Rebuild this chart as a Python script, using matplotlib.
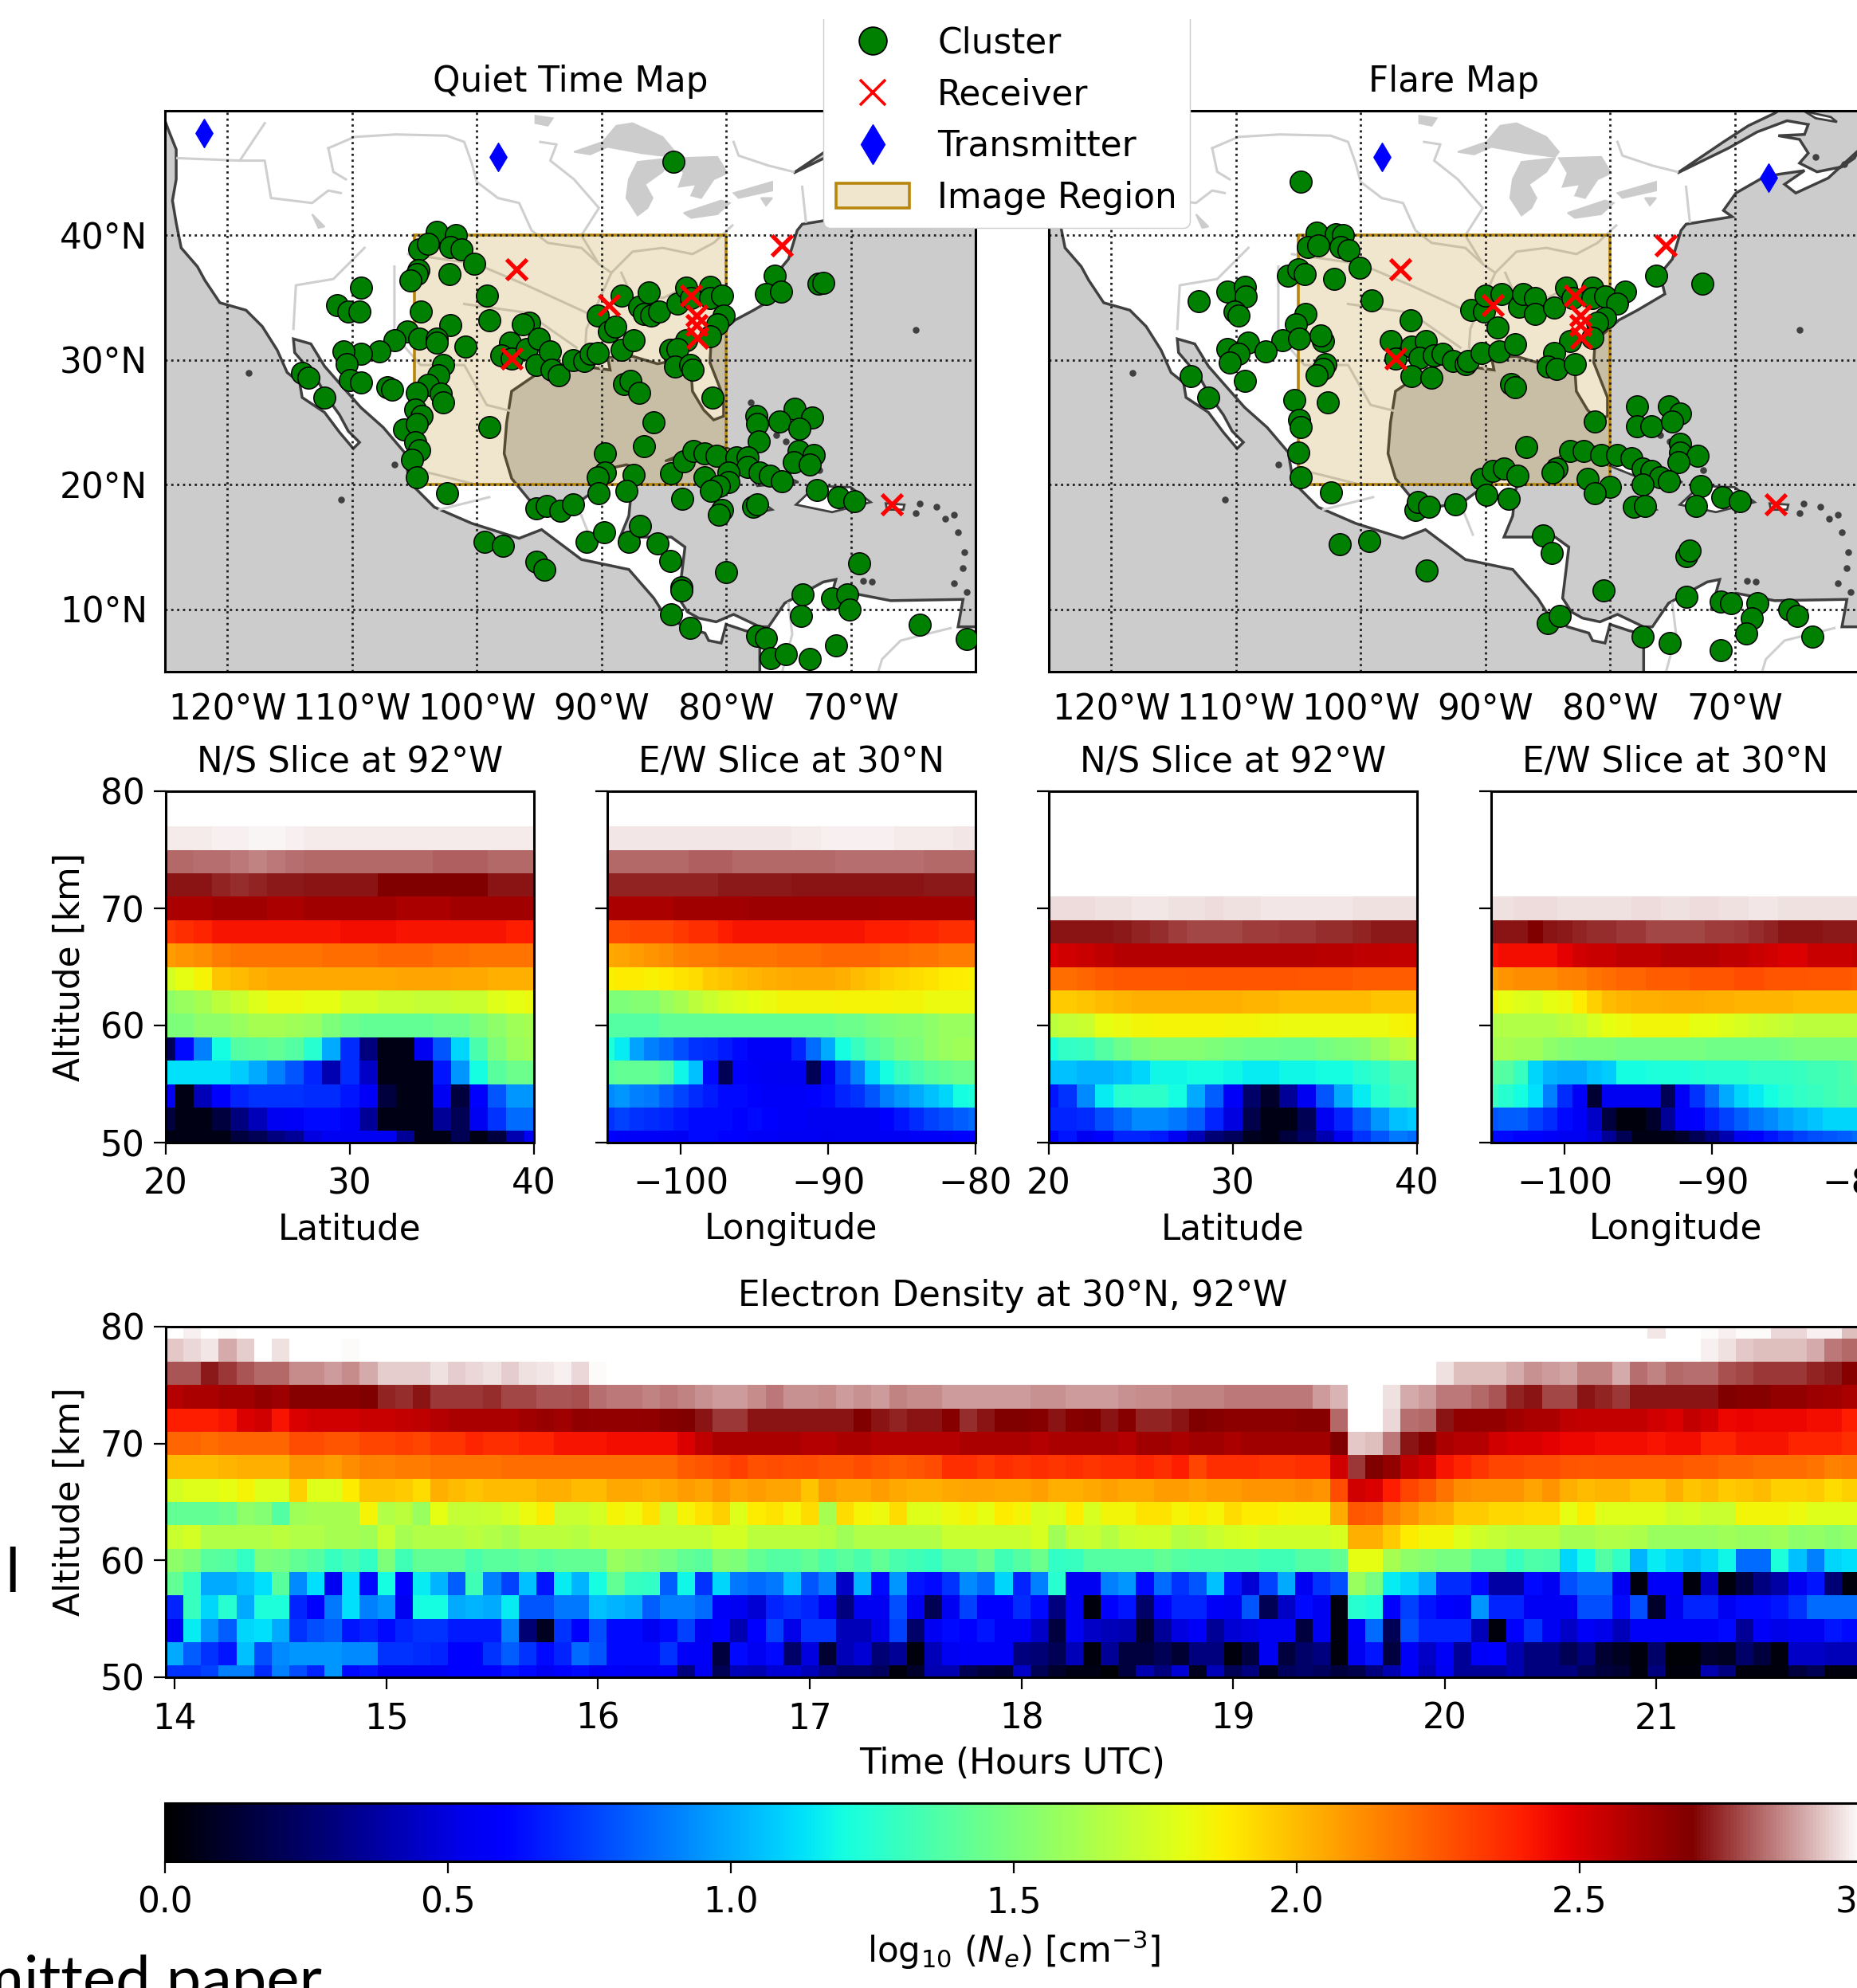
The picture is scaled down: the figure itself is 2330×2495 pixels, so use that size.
import matplotlib
matplotlib.use('Agg')
import matplotlib.pyplot as plt
import numpy as np
from matplotlib.colors import LinearSegmentedColormap
from matplotlib.lines import Line2D
from matplotlib.patches import Patch, Polygon, Rectangle

# Cluster, receiver and transmitter locations (lon, lat)
quiet_lon = [-84.2,-103.2,-101.7,-104.6,-103.9,-102.1,-101.2,-100.2,-102.2,-104.7,-104.8,-105.3,-109.3,-111.2,-110.3,-109.4,-104.5,-99.2,-99,-102.1,-95.8,-96.3,-105.6,-106.6,-104.6,-103.2,-103.2,-100.9,-107.8,-109.3,-110.7,-110.4,-110.2,-109.3,-107.2,-106.8,-114,-113.5,-112.2,-102.7,-103.1,-103.9,-104.8,-102.9,-102.7,-104.9,-104.4,-105.8,-104.8,-104.9,-104.6,-105.2,-104.8,-102.4,-99,
             -97.3,-98,-97.2,-96,-95,-95.2,-94.1,-94,-93.4,-92.3,-91.4,-90.9,-90.3,-88.4,-87.4,-90.3,-89.4,-88.9,-88.4,-87,-86.2,-86.6,-86,-85.4,-83.9,-83.2,-82.8,-81.3,-81.3,-80.3,-80.2,-80.7,-81.3,-83.2,-84.5,-83.9,-84.1,-82.9,-82.7,
             -81.1,-88.2,-87.7,-87,-85.8,-86.6,-76.1,-76.8,-75.6,-72.6,-72.2,
             -77.6,-77.5,-74.5,-73.1,-75.7,-74.1,-77.4,-74.2,-73,-74.6,-73.3,-89.7,-89.7,-90.3,-90.2,-87.4,-88,-84.4,-83.4,-82.6,-81.7,-80.8,-79.2,-78.3,-78.3,-79.8,-77.3,-76.5,-75.5,-81.7,-79.8,-80.6,-81.2,-83.5,-80.3,-80.6,-77.8,-77.5,-72.7,-71,-69.7,
             -95.2,-94.4,-93.3,-92.3,-99.4,-97.9,-95.2,-94.6,-91.2,-89.8,-87.8,-86.9,-85.5,-84.5,-83.6,-83.6,-84.4,-82.9,-80,-69.3,-73.9,-74,-71.5,-70.3,-70.1,-77.5,-76.8,-76.4,-75.2,-73.3,-71.2,-64.5,-60.7]
quiet_lat = [45.9,40.3,40,38.9,39.3,39.1,38.9,37.7,36.9,37.2,36.9,36.4,35.8,34.4,33.9,33.9,33.9,35.2,33.2,32.8,33,32.9,32.3,31.6,31.7,31.7,31.4,31.1,30.7,30.5,30.7,29.7,28.4,28.2,27.8,27.6,29,28.6,27,29.6,28.8,28,27.4,27.3,26.6,26,25.5,24.4,24.9,23.4,22.8,22,20.6,19.3,24.6,
             31.4,30.4,30.1,30.9,31.7,29.6,30.7,29.2,28.8,30,29.9,30.5,30.6,30.8,31.6,33.6,32.3,32.7,35.2,34.3,35.4,33.7,33.6,33.9,34.5,35.8,35,35.9,35,35.2,33.6,32.9,31.9,31.6,30.8,30.9,29.5,29.6,29.2,
             27,28.1,28.3,27.4,25,23.1,36.8,35.3,35.5,36.1,36.2,
             25.5,24.9,26.1,25.4,25.1,24.5,23.5,22.7,22.4,21.8,21.6,22.5,21,20.6,19.3,20.8,19.5,20.9,21.9,22.7,22.5,22.3,22.2,22.2,21.4,21,21,20.7,20.3,20.6,20.2,19.9,19.5,18.9,18,17.6,18.2,18.4,19.6,19,18.7,
             18.1,18.3,17.9,18.4,15.4,15.1,13.8,13.2,15.4,16.2,15.4,16.7,15.3,13.9,11.8,11.5,9.6,8.5,13,13.7,11.2,9.5,10.9,11.2,10,7.9,7.7,6.1,6.4,6,7.1,8.8,7.6]
flare_lon = [-104.8,-103.5,-102,-101.4,-104.2,-103.4,-101.6,-101,-100.1,-105.8,-105,-104.5,-102.1,-99.1,-96,-113,-110.7,-109.3,-109.2,-110.1,-109.8,-104.4,-105.2,-106.3,-104.9,-103,-103.2,-109,-110.7,-109.8,-110.5,-107.6,-109.3,-113.6,-112.2,-102.8,-103,-103.5,-102.6,-105.3,-104.9,-104.8,-105,-104.8,-102.4,
             -97.6,-97.2,-95.9,-94.8,-95.3,-95.9,-94.3,-94.1,-93.4,-92.6,-91.6,-91.4,-90.3,-88.9,-87.6,-91.1,-90.1,-90,-88.7,-87.3,-87,-86,-86,-84.5,-89,-83.5,-83,-81.4,-81.4,-80.4,-78.8,-79.4,-80.4,-81,-81.4,-83.2,-84.5,-85,-84.3,-82.8,-87.9,-87.6,-81.2,-86.7,-76.3,-72.6,
             -77.8,-77.8,-76.7,-75.3,-74.4,-75,-74.4,-74.4,-73,-74.5,-83.2,-82.1,-80.7,-79.4,-78.3,-77.4,-76.7,-76,-75.3,-84.3,-84.6,-81.8,-80,-81.2,-77.4,-78.1,-77.2,-72.7,-73.1,-71,-69.6,
             -90.3,-89.4,-88.5,-87.4,-89.9,-88.1,-95.6,-95.4,-94.5,-92.4,-101.7,-99.3,-94.7,-85.4,-84.7,-73.9,-73.6,-80.5,-73.9,-71.1,-70.3,-68.2,-68.6,-69.1,-65.6,-65,-63.8,-71.1,-75.2,-77.4,-85,-84]
flare_lat = [44.3,40.2,40.1,40,39.1,39.2,39.1,38.8,37.4,36.8,37.3,36.9,36.5,34.8,33.2,34.7,35.5,35.9,35.1,33.9,33.6,33.7,32.9,31.6,31.7,31.5,32,31.4,30.9,30.5,29.8,30.7,28.3,28.7,27,29.7,29.3,28.8,26.6,26.8,25.2,24.6,22.6,20.6,19.4,
             31.5,30.1,31.1,31.5,30.2,28.7,28.6,30.4,30.5,29.9,29.7,29.9,30.6,30.7,31.3,34,33.9,35.2,35.3,34.3,35.3,35,33.7,34.2,32.6,35.8,35,35.8,35,35.1,35.5,34.5,33.4,33,31.8,31.5,30.6,29.5,29.3,29.7,28.1,27.8,25.1,23,36.8,36.1,
             26.3,24.7,24.7,26.3,25.7,25.1,23.3,22.6,22.3,21.8,22.7,22.7,22.4,22.4,22.1,21.3,21.1,20.6,20.3,21.3,21,20.5,19.8,19.3,20,18.2,18.3,19.9,18.3,19,18.7,
             20.5,21.1,21.3,20.7,19.2,18.9,18,18.6,18.2,18.4,15.2,15.5,13.1,15.9,14.5,14.3,14.7,11.5,11,10.6,10.5,10.5,9.3,8.1,10,9.5,7.8,6.7,7.3,7.8,8.9,9.5]
receiver_lon = [-96.8,-89.4,-97.2,-82.8,-82.4,-82.4,-82.3,-75.5,-66.7]
receiver_lat = [37.3,34.4,30.1,35.2,33.6,32.8,31.8,39.2,18.4]
transmitter_lon = [-121.9,-98.3,-67.3]
transmitter_lat = [48.2,46.3,44.6]

# Outline of the mainland
coast_lon = [-125.3,-124.7,-124.1,-124.1,-124.4,-124.1,-123.7,-122.4,-121.8,-120.6,-118.5,-117.2,-116,-115.2,-114.2,-114,-112.2,-111,-109.9,-109.4,-110.3,-111,-112,-112.9,-114.6,-114.7,-113.3,-112.2,-110.8,-109.3,-107.5,-105.8,-105.4,-103.4,-100.4,-96.6,-94.8,-91.6,-87.8,-85.8,-85.1,-83.4,-81.7,-81.4,-80.4,-80,-78.5,-77.3,-77.3,-77.3,
             -59,-59,-61.4,-61,-66.8,-69.9,-71.5,-71.9,-71.2,-72.2,-75.3,-76.6,-77.3,-79.4,-80.8,-82.2,-83.1,-83.8,-83.3,-84.4,-86.5,-88.5,-87.8,-87.6,-86.9,-88,-90.3,-90.6,-91.8,-94,-95.8,-97.2,-97.8,-97.6,-97.2,-95,-93.5,-91.5,-89.3,-89.5,-87.5,-85.5,-84,-82.8,-82.7,-81.8,-81,-80.2,-80.2,-81.3,-81.2,-79.3,-77.8,-75.6,-76,-75,-74.3,-73.9,-70.2,-70.9,-69.9,-67.8,-66.5,-64.4,-66,-65.1,-62.5,-60.1,-60.4,-61.4,-63.4,-64.8,-64.1,-64.8,-66.5,-64.4,-64.1,-65.8,-68.2,-70.5,-74.6,-70.9,-68.9,-66.8,-66.5,-66.5,-127]
coast_lat = [50,48.4,46.9,44.5,42.8,41,39,37.5,36.4,34.6,34,32.7,30.8,29,28.2,27,25.8,24.2,22.9,23.4,24.3,25.6,27,28.6,30.6,31.7,31.3,29.5,27.9,26.2,24.6,22.6,20.2,18.2,16.9,15.7,16.4,14,13.2,10.9,9.8,8.6,8.1,7.5,7.3,8.8,8.3,8,5,4,
             4,8.6,8.6,10.8,10.7,11.3,10.5,9.9,12.4,12.2,10.5,8.6,8.6,9.6,9,9.3,9.8,10.9,15,15.8,15.8,15.8,17.5,19.5,21.3,21.6,21.1,19.5,18.6,18.2,18.8,20.5,22.5,25,27.5,29,29.7,29.5,29.2,30.2,30.3,29.7,30,29,27.5,26,25.2,25.5,27,29.8,31.5,33.2,34,35.3,36.9,38.1,40.4,40.9,41.5,42,43.4,44.6,44.9,45.2,44.1,43.4,44.6,46.8,46.2,45.5,45.1,45.8,46.6,47.7,48,48.1,48.9,49.2,48.3,47,45,47.5,48.8,49.8,50,52,52]

cuba_lon = [-84.9,-82,-80,-77,-74.2,-77.5,-78,-82]
cuba_lat = [21.9,23.1,23,21.5,20.2,19.9,20.7,22.3]
hispaniola_lon = [-74.4,-72.8,-70,-68.4,-71.5]
hispaniola_lat = [18.4,19.9,19.8,18.6,17.8]
jamaica_lon = [-78.3,-77,-76.3,-77.3]
jamaica_lat = [18.4,18.5,18,17.8]
puerto_rico_lon = [-67.2,-65.7,-65.8,-67.1]
puerto_rico_lat = [18.5,18.4,18,18]
anticosti_lon = [-64.4,-62.3,-61.8,-63.5]
anticosti_lat = [49.95,49.5,49.1,49.4]
dot_lon = [-118.3,-110.9,-106.6,-64.8,-63.1,-62.4,-61.7,-61.4,-60.9,-61,-61.7,-60.7,-69,-68.3,-64.5,-64.8,-77.5,-76,-75.2,-73.2,-78,-72.5,-74,-75,-63.5,-61.2]
dot_lat = [29,18.8,21.6,32.4,18.2,17.3,17.6,16.2,14.6,13.3,12.1,11.4,12.3,12.2,18.5,17.7,24.5,24,23.5,22.3,26.6,21.2,22.6,21,46.3,45.7]

superior_lon = [-92.2,-89.9,-88.8,-87.5,-85.1,-84.1,-84.4,-86.8,-89.5,-90.9]
superior_lat = [46.7,47.5,48.8,49,47.9,46.7,46.3,46.6,47.1,46.5]
michigan_lon = [-84.4,-87.1,-87.8,-88,-87.1,-86.3,-85.9,-86.5,-85.1]
michigan_lat = [46.2,45.9,44.5,43,41.6,42.2,43,44.1,45.1]
huron_lon = [-84.1,-80.7,-79.9,-81,-82,-82.8,-82.4,-83.8,-83.4]
huron_lat = [46.2,46.3,45,44.5,43,43.2,44.1,43.9,45]
erie_lon = [-83.4,-80.4,-79.7,-80.7,-82.8]
erie_lat = [41.8,42.8,42.6,41.7,41.4]
ontario_lon = [-79.4,-76.3,-76.3,-79]
ontario_lat = [43.4,44.3,43.6,43]
woods_lon = [-95.3,-93.9,-94.3,-95.3]
woods_lat = [49.6,49.4,48.8,49]
salt_lake_lon = [-113.2,-112.2,-112.7]
salt_lake_lat = [41.7,40.7,40.6]
finger_lon = [-77.2,-76.3,-76.8]
finger_lat = [43,43,42.4]

missouri_lon = [-111.9,-109.8,-106.5,-102.4,-101,-100.4,-100,-98.3,-96.6,-95.6,-94.3,-91.6,-90.2]
missouri_lat = [47,47.9,48.1,48,47.5,45.8,44.3,43,42.6,40.4,39.4,39,37.7]
yellowstone_lon = [-111.9,-111.5,-110.5]
yellowstone_lat = [47,45.1,44.5]
mississippi_lon = [-94.9,-93.6,-94.1,-92.2,-90.2,-91.6,-90.2,-89.2,-90.1,-91.2,-91.3,-90]
mississippi_lat = [47.5,47.3,46,44.5,42.2,40,37.7,37,35,32.5,31,29.3]
ohio_lon = [-89.2,-87.5,-85.1,-82.7,-81,-79.5]
ohio_lat = [37,38.7,39,38.5,39.4,40.8]
arkansas_lon = [-105.5,-100,-96,-91.2]
arkansas_lat = [38.5,37.7,36,33.8]
red_lon = [-101,-96,-92]
red_lat = [34.5,33.8,31]
rio_grande_lon = [-106.6,-106.6,-104.5,-101,-99.2,-97.2]
rio_grande_lat = [37.5,32,29.6,29.6,26.4,25.9]
colorado_lon = [-109,-111.5,-114.5,-114.7]
colorado_lat = [39,36.5,36,32.5]
columbia_lon = [-117,-119,-124]
columbia_lat = [49,46,46.2]
snake_lon = [-110.9,-111.9,-113.2,-116.5,-117,-119]
snake_lat = [43.4,43.6,42.6,43,46,46]
lerma_lon = [-100,-104,-105]
lerma_lat = [20,21,21.5]
balsas_lon = [-99,-103]
balsas_lat = [19,18]
usumacinta_lon = [-91,-92]
usumacinta_lat = [16,18.5]
magdalena_lon = [-75,-74.7,-75.5]
magdalena_lat = [10.5,8,5]
orinoco_lon = [-62,-66,-67.5,-67.8]
orinoco_lat = [8.5,7.5,6,5]
tennessee_lon = [-88.4,-87.5,-85,-83]
tennessee_lat = [37,35,35,36]
ottawa_lon = [-79.4,-79,-76.6,-74.6]
ottawa_lat = [47.5,46.4,45.6,45.1]
hudson_lon = [-73.9,-73.6]
hudson_lat = [43.9,41.1]

# Electron density slices, log10 values, one row per altitude from 50 km up
slice_alt = [50,52,54,56,58,60,62,64,66,68,70,72,74,76,78,80]
lat_centers = list(range(20, 41))
lon_centers = list(range(-105, -79))

quiet_ns = [
    [.05,.05,.05,.05,.15,.2,.3,.35,.5,.55,.55,.55,.55,.35,.05,.05,.2,.05,.15,.4,.55],
    [.15,.05,.05,.15,.3,.42,.55,.58,.62,.62,.57,.35,.05,.05,.05,.35,.2,.55,.72,.85,.85],
    [.55,.05,.42,.6,.68,.72,.72,.72,.7,.7,.65,.57,.15,.05,.05,.55,.15,.6,.8,.95,.95],
    [1.13,1.13,1.13,1.13,1.08,1.0,.9,.8,.68,.4,.7,.45,.05,.05,.05,.65,.95,1.2,1.4,1.45,1.45],
    [.2,.62,.9,1.2,1.38,1.4,1.42,1.38,1.25,1.0,.7,.3,.05,.05,.55,.8,1.1,1.35,1.5,1.58,1.6],
    [1.5,1.5,1.55,1.55,1.58,1.62,1.62,1.6,1.58,1.5,1.45,1.42,1.42,1.42,1.42,1.45,1.45,1.5,1.55,1.6,1.62],
    [1.55,1.58,1.62,1.68,1.72,1.78,1.82,1.82,1.8,1.8,1.75,1.75,1.72,1.72,1.7,1.7,1.72,1.72,1.78,1.8,1.82],
    [1.75,1.8,1.85,1.98,2.0,2.03,2.05,2.05,2.05,2.05,2.05,2.05,2.05,2.06,2.06,2.06,2.05,2.05,2.03,2.03,2.03],
    [2.08,2.1,2.12,2.16,2.18,2.18,2.18,2.18,2.18,2.2,2.2,2.2,2.22,2.22,2.22,2.2,2.2,2.18,2.18,2.18,2.18],
    [2.33,2.36,2.38,2.42,2.42,2.42,2.42,2.42,2.42,2.42,2.44,2.44,2.44,2.42,2.42,2.42,2.42,2.42,2.42,2.4,2.4],
    [2.6,2.6,2.6,2.62,2.62,2.62,2.6,2.6,2.62,2.62,2.62,2.62,2.62,2.6,2.6,2.6,2.62,2.62,2.62,2.62,2.62],
    [2.72,2.72,2.72,2.74,2.75,2.74,2.73,2.73,2.72,2.72,2.72,2.72,2.7,2.7,2.7,2.7,2.7,2.7,2.72,2.72,2.72],
    [2.82,2.82,2.83,2.83,2.84,2.85,2.84,2.83,2.82,2.82,2.82,2.82,2.82,2.82,2.82,2.81,2.81,2.81,2.82,2.82,2.82],
    [2.975,2.975,2.975,2.98,2.98,2.985,2.985,2.98,2.975,2.975,2.975,2.975,2.975,2.975,2.975,2.975,2.975,2.975,2.975,2.975,2.975],
    [3.05]*21,
    [3.05]*21,
]
quiet_ew = [
    [.6,.58,.58,.58,.58,.56,.62,.62,.6,.6,.58,.58,.56,.56,.56,.54,.55,.55,.55,.56,.56,.58,.58,.58,.6,.6],
    [.72,.75,.72,.7,.68,.65,.62,.62,.62,.6,.62,.6,.58,.58,.55,.55,.55,.55,.55,.6,.65,.7,.75,.78,.82,.85],
    [.92,.95,.9,.88,.82,.76,.7,.66,.62,.62,.6,.57,.57,.57,.6,.62,.68,.72,.8,.9,.95,1.0,1.05,1.1,1.2,1.22],
    [1.4,1.42,1.42,1.42,1.38,1.18,1.05,.62,.2,.6,.58,.56,.55,.55,.2,.55,.75,.9,1.1,1.2,1.3,1.35,1.4,1.42,1.45,1.45],
    [1.22,1.15,.98,.9,.85,.78,.72,.7,.66,.62,.58,.57,.57,.68,.85,1.0,1.2,1.3,1.38,1.42,1.48,1.5,1.55,1.58,1.6,1.6],
    [1.38,1.38,1.38,1.38,1.42,1.42,1.42,1.42,1.42,1.42,1.42,1.42,1.42,1.42,1.42,1.42,1.45,1.45,1.48,1.5,1.52,1.52,1.55,1.58,1.58,1.58],
    [1.5,1.5,1.52,1.52,1.58,1.62,1.68,1.72,1.76,1.78,1.8,1.82,1.84,1.84,1.84,1.84,1.85,1.85,1.85,1.85,1.84,1.84,1.82,1.82,1.82,1.82],
    [1.86,1.88,1.88,1.86,1.88,1.9,1.92,1.96,1.98,2.0,2.02,2.03,2.04,2.05,2.05,2.05,2.03,2.0,1.98,1.95,1.93,1.92,1.9,1.88,1.87,1.86],
    [2.05,2.06,2.08,2.1,2.12,2.15,2.16,2.16,2.18,2.18,2.18,2.18,2.2,2.2,2.2,2.22,2.22,2.22,2.22,2.2,2.2,2.18,2.18,2.16,2.16,2.16],
    [2.28,2.28,2.3,2.3,2.3,2.33,2.36,2.36,2.4,2.42,2.42,2.42,2.42,2.42,2.42,2.42,2.42,2.42,2.4,2.4,2.4,2.38,2.38,2.36,2.36,2.36],
    [2.6,2.6,2.6,2.6,2.6,2.62,2.62,2.62,2.62,2.62,2.63,2.63,2.63,2.63,2.63,2.63,2.63,2.63,2.63,2.62,2.62,2.62,2.62,2.62,2.62,2.62],
    [2.74,2.74,2.74,2.74,2.74,2.74,2.74,2.74,2.73,2.73,2.73,2.73,2.73,2.72,2.72,2.72,2.72,2.72,2.72,2.72,2.72,2.72,2.73,2.73,2.73,2.73],
    [2.82,2.82,2.82,2.82,2.82,2.82,2.81,2.81,2.81,2.82,2.82,2.82,2.82,2.82,2.82,2.82,2.83,2.83,2.83,2.83,2.83,2.83,2.82,2.82,2.82,2.82],
    [2.965,2.965,2.97,2.97,2.97,2.965,2.965,2.97,2.97,2.97,2.97,2.97,2.97,2.975,2.975,2.98,2.98,2.98,2.98,2.98,2.975,2.975,2.975,2.975,2.97,2.97],
    [3.05]*26,
    [3.05]*26,
]
flare_ns = [
    [.6,.65,.55,.6,.68,.68,.66,.55,.42,.28,.22,.08,.05,.15,.25,.4,.55,.72,.8,.88,.85],
    [.68,.68,.7,.78,.85,.92,.92,.88,.82,.68,.5,.18,.05,.05,.2,.55,.68,.82,.95,1.05,1.08],
    [.65,.72,.92,1.15,1.25,1.27,1.27,1.2,1.0,.82,.58,.25,.1,.35,.55,.8,1.0,1.15,1.25,1.32,1.35],
    [1.05,1.05,1.02,1.02,1.05,1.1,1.18,1.18,1.2,1.2,1.18,1.15,1.15,1.18,1.18,1.2,1.2,1.25,1.28,1.35,1.35],
    [1.22,1.28,1.3,1.38,1.45,1.5,1.52,1.52,1.52,1.5,1.48,1.46,1.46,1.45,1.45,1.48,1.5,1.52,1.58,1.65,1.68],
    [1.68,1.7,1.72,1.8,1.82,1.84,1.85,1.85,1.85,1.85,1.84,1.84,1.83,1.82,1.82,1.82,1.82,1.82,1.82,1.85,1.86],
    [1.96,1.96,1.98,2.0,2.02,2.03,2.03,2.03,2.03,2.03,2.03,2.02,2.02,2.0,2.0,2.0,2.0,2.0,1.98,1.98,1.98],
    [2.2,2.2,2.22,2.24,2.25,2.25,2.25,2.25,2.26,2.26,2.26,2.26,2.26,2.26,2.25,2.25,2.25,2.24,2.24,2.24,2.24],
    [2.5,2.52,2.54,2.56,2.58,2.58,2.58,2.58,2.58,2.58,2.58,2.58,2.58,2.58,2.58,2.57,2.57,2.56,2.56,2.55,2.55],
    [2.72,2.72,2.72,2.72,2.73,2.74,2.75,2.77,2.78,2.78,2.78,2.77,2.77,2.76,2.76,2.75,2.75,2.74,2.73,2.73,2.73],
    [2.955,2.955,2.955,2.96,2.96,2.965,2.965,2.96,2.96,2.955,2.96,2.96,2.965,2.965,2.97,2.97,2.97,2.96,2.96,2.96,2.96],
    [3.05]*21,
    [3.05]*21,
    [3.05]*21,
    [3.05]*21,
    [3.05]*21,
]
flare_ew = [
    [.62,.62,.6,.6,.58,.55,.55,.5,.35,.2,.05,.05,.05,.1,.2,.3,.4,.55,.6,.65,.7,.75,.78,.8,.82,.85],
    [.8,.82,.82,.75,.7,.62,.57,.45,.15,.03,.03,.1,.35,.57,.6,.68,.75,.82,.88,.92,.98,1.02,1.06,1.1,1.1,1.1],
    [1.3,1.25,1.2,1.12,.9,.7,.57,.12,.55,.55,.55,.55,.2,.57,.72,.85,1.0,1.1,1.15,1.2,1.25,1.28,1.3,1.32,1.35,1.35],
    [1.4,1.38,1.3,1.1,1.02,1.0,1.0,1.05,1.08,1.2,1.2,1.22,1.22,1.22,1.24,1.25,1.25,1.25,1.28,1.28,1.28,1.3,1.32,1.32,1.35,1.38],
    [1.62,1.62,1.6,1.6,1.55,1.52,1.5,1.5,1.5,1.48,1.48,1.48,1.48,1.48,1.48,1.46,1.46,1.46,1.46,1.46,1.48,1.5,1.5,1.5,1.5,1.5],
    [1.65,1.65,1.65,1.65,1.65,1.68,1.7,1.76,1.8,1.82,1.84,1.84,1.84,1.84,1.8,1.8,1.78,1.76,1.74,1.72,1.7,1.68,1.68,1.68,1.68,1.68],
    [1.84,1.8,1.78,1.76,1.8,1.82,1.88,1.95,2.0,2.02,2.03,2.03,2.04,2.04,2.04,2.03,2.03,2.02,2.02,2.02,2.02,2.0,2.0,2.0,2.0,2.0],
    [2.08,2.1,2.12,2.12,2.12,2.14,2.15,2.18,2.2,2.22,2.22,2.24,2.24,2.24,2.26,2.26,2.26,2.28,2.28,2.26,2.26,2.26,2.25,2.25,2.25,2.24],
    [2.42,2.44,2.44,2.44,2.44,2.48,2.52,2.54,2.54,2.56,2.56,2.56,2.58,2.58,2.58,2.58,2.56,2.56,2.54,2.52,2.5,2.5,2.54,2.54,2.54,2.56],
    [2.72,2.72,2.72,2.7,2.72,2.73,2.74,2.75,2.75,2.76,2.76,2.78,2.78,2.78,2.78,2.77,2.77,2.76,2.75,2.74,2.72,2.72,2.72,2.73,2.73,2.73],
    [2.96,2.96,2.955,2.955,2.955,2.96,2.96,2.96,2.96,2.96,2.955,2.955,2.96,2.96,2.955,2.955,2.96,2.96,2.965,2.965,2.96,2.96,2.96,2.96,2.96,2.96],
    [3.05]*26,
    [3.05]*26,
    [3.05]*26,
    [3.05]*26,
    [3.05]*26,
]

# Time-altitude series at 30N, 92W, 5 minute cadence from 14 UTC
ne_50 = [.72,.72,.75,.9,.9,.7,.9,.78,.68,.95,.62,.65,.55,.55,.55,.55,.6,.6,.6,.65,.62,.55,.6,.62,.55,.58,.55,.55,.58,.3,.55,.2,.42,.4,.48,.48,.42,.33,.25,.25,.22,.03,.1,.4,
         .4,.2,.15,.12,.45,.2,.1,.05,.05,.02,.15,.4,.3,.48,.08,.42,.2,.3,.08,.22,.25,.22,.15,.18,.3,.4,.57,.42,.55,.35,.35,.35,.4,.3,.3,.3,.2,.15,.12,.03,.3,.03,.03,.4,.3,.03,.03,.03,.15,.2,.03,.03]
ne_52 = [1.0,.82,.72,.65,1.05,.78,.92,.95,.95,.95,.92,.92,.72,.72,.7,.68,.6,.6,.72,.82,.72,.62,.68,.85,.8,.62,.62,.62,.72,.58,.58,.15,.62,.55,.62,.25,.5,.12,.42,.48,.28,.35,.03,.42,
         .55,.57,.57,.57,.3,.28,.2,.42,.03,.35,.15,.15,.2,.12,.3,.3,.03,.15,.55,.15,.25,.3,.03,.55,.65,.15,.57,.45,.57,.35,.57,.6,.4,.3,.3,.2,.3,.12,.08,.03,.25,.02,.02,.1,.08,.25,.15,.03,.45,.45,.42,.42]
ne_54 = [.55,1.15,.95,.82,1.1,1.12,1.0,.72,.78,.82,.65,.68,.62,.68,.72,.72,.66,.66,.66,.9,.28,.08,.72,.6,.78,.62,.62,.55,.62,.75,.55,.6,.4,.6,.75,.52,.72,.72,.42,.42,.52,.75,.25,.55,
         .62,.6,.65,.58,.58,.45,.15,.55,.45,.42,.4,.1,.35,.5,.58,.35,.48,.5,.55,.55,.15,.55,.03,.58,.85,.2,.78,.68,.68,.68,.42,.03,.6,.72,.55,.45,.58,.52,.42,.58,.57,.57,.57,.57,.62,.35,.57,.52,.55,.55,.65,.62]
ne_56 = [.68,1.3,1.1,1.25,1.0,1.22,1.22,.68,.6,.88,1.12,.9,.95,.55,1.2,1.2,1.0,1.02,1.0,1.15,.8,.8,.88,.88,1.05,1.02,1.0,.82,.9,.9,.85,.58,.55,.48,.68,.72,.68,.55,.3,.55,.55,.78,.55,.2,
         .55,.75,.6,.6,.7,.62,.3,.55,.03,.6,.65,.25,.6,.68,.68,.58,.55,.8,.2,.45,.62,.55,.03,1.25,1.22,.6,.75,.65,.6,.58,.95,.68,.68,.56,.56,.56,.78,.78,.62,.78,.1,.55,.68,.68,.55,.62,.62,.65,.72,.85,.85,.85]
ne_58 = [1.42,1.3,1.0,1.0,1.05,1.12,1.4,.92,1.12,.55,1.12,.62,1.2,.6,1.15,1.02,.82,1.32,.9,.75,1.05,.65,1.15,1.02,1.2,1.42,1.3,1.28,.82,1.18,.72,1.1,.88,.85,.88,1.05,.8,.9,.45,1.02,.62,.95,.65,.62,
         .72,.92,.85,1.1,.68,.9,1.25,.55,.55,.9,.95,.62,.85,.72,.8,1.05,.65,.48,.75,1.0,.55,.72,.78,1.58,1.48,1.15,1.1,1.0,.7,.7,.62,.38,.38,.62,.55,.78,.85,.85,.55,.03,.57,.57,.03,.45,.03,.15,.3,.38,.55,.65,.28,.03]
ne_60 = [1.55,1.5,1.4,1.38,1.28,1.5,1.48,1.42,1.38,1.3,1.35,1.28,1.5,1.32,1.42,1.42,1.42,1.35,1.4,1.4,1.42,1.4,1.42,1.42,1.42,1.58,1.55,1.52,1.48,1.42,1.4,1.52,1.5,1.42,1.38,1.38,1.42,1.35,1.4,1.35,1.42,1.35,1.32,1.3,
         1.38,1.38,1.45,1.32,1.38,1.45,1.28,1.3,1.38,1.38,1.38,1.38,1.42,1.38,1.36,1.36,1.35,1.35,1.32,1.32,1.38,1.38,1.42,1.8,1.8,1.62,1.55,1.52,1.48,1.48,1.4,1.4,1.3,1.36,1.35,1.1,1.2,1.38,1.28,1.02,1.15,1.1,1.05,1.1,1.18,.85,.85,1.22,1.05,.9,1.1,1.12]
ne_62 = [1.72,1.75,1.65,1.65,1.65,1.65,1.68,1.65,1.65,1.62,1.62,1.6,1.72,1.62,1.65,1.65,1.65,1.68,1.65,1.62,1.68,1.68,1.68,1.66,1.7,1.7,1.7,1.7,1.7,1.7,1.7,1.75,1.75,1.68,1.68,1.68,1.68,1.66,1.6,1.65,1.65,1.65,1.65,1.65,
         1.72,1.72,1.72,1.72,1.72,1.76,1.6,1.7,1.72,1.66,1.72,1.74,1.74,1.66,1.68,1.72,1.75,1.76,1.74,1.74,1.74,1.74,1.76,2.03,2.03,1.96,1.88,1.84,1.84,1.78,1.74,1.7,1.68,1.68,1.68,1.62,1.62,1.65,1.65,1.64,1.58,1.58,1.58,1.58,1.6,1.58,1.58,1.6,1.55,1.56,1.54,1.56]
ne_64 = [1.42,1.42,1.42,1.45,1.55,1.52,1.38,1.6,1.62,1.62,1.62,1.85,1.65,1.68,1.58,1.8,1.7,1.7,1.72,1.75,1.82,1.88,1.72,1.72,1.75,1.85,1.82,1.9,1.72,1.85,1.9,1.95,1.78,1.88,1.9,1.85,1.92,1.62,1.92,1.85,1.82,1.92,1.78,1.78,
         1.82,1.85,1.8,1.88,1.85,1.76,1.78,1.88,1.76,1.84,1.84,1.9,1.9,1.85,1.88,1.85,1.92,1.88,1.88,1.85,1.84,1.84,2.04,2.25,2.24,2.15,2.1,2.05,2.03,1.96,1.96,1.93,1.93,1.92,1.92,1.8,1.88,1.78,1.78,1.78,1.78,1.74,1.75,1.72,1.72,1.84,1.84,1.84,1.82,1.78,1.78,1.78]
ne_66 = [1.75,1.78,1.78,1.8,1.85,1.78,1.78,1.95,1.78,1.78,1.88,1.98,1.98,1.96,1.92,2.03,2.0,1.98,2.0,2.0,2.0,2.03,2.03,2.0,2.0,2.05,2.05,2.03,2.05,2.08,2.06,2.1,2.06,2.08,2.06,2.06,1.98,2.08,2.05,2.05,2.08,2.05,2.03,2.03,
         2.05,2.06,2.06,2.05,2.05,2.07,2.03,2.03,2.05,2.07,2.05,2.05,2.08,2.08,2.06,2.08,2.08,2.1,2.1,2.1,2.12,2.1,2.28,2.52,2.5,2.4,2.3,2.25,2.18,2.12,2.1,2.1,2.1,2.06,2.1,2.03,2.0,2.02,2.02,1.98,1.98,2.03,1.98,2.0,1.96,1.98,2.0,1.95,1.95,1.96,1.92,1.95]
ne_68 = [2.0,2.0,2.0,2.02,2.03,2.03,2.03,2.1,2.1,2.08,2.12,2.15,2.14,2.16,2.16,2.18,2.18,2.18,2.18,2.2,2.2,2.2,2.2,2.2,2.2,2.2,2.2,2.2,2.2,2.24,2.26,2.28,2.32,2.27,2.28,2.27,2.28,2.26,2.26,2.28,2.26,2.24,2.26,2.28,
         2.36,2.36,2.33,2.36,2.34,2.36,2.34,2.36,2.34,2.36,2.36,2.38,2.36,2.4,2.3,2.36,2.36,2.36,2.34,2.34,2.36,2.36,2.52,2.76,2.7,2.65,2.56,2.52,2.42,2.38,2.34,2.3,2.3,2.28,2.28,2.26,2.25,2.26,2.26,2.26,2.26,2.26,2.24,2.24,2.22,2.22,2.2,2.2,2.2,2.18,2.15,2.16]
ne_70 = [2.22,2.22,2.2,2.22,2.22,2.22,2.22,2.28,2.28,2.26,2.26,2.3,2.3,2.32,2.3,2.34,2.34,2.38,2.36,2.36,2.38,2.38,2.42,2.42,2.42,2.44,2.44,2.44,2.44,2.5,2.56,2.6,2.6,2.6,2.6,2.6,2.58,2.58,2.6,2.6,2.58,2.58,2.58,2.58,
         2.58,2.6,2.6,2.6,2.6,2.58,2.6,2.6,2.6,2.6,2.58,2.62,2.62,2.6,2.62,2.62,2.6,2.62,2.62,2.62,2.62,2.62,2.7,2.93,2.92,2.84,2.72,2.68,2.6,2.58,2.58,2.52,2.5,2.5,2.48,2.46,2.46,2.44,2.44,2.44,2.42,2.44,2.44,2.38,2.38,2.42,2.42,2.42,2.38,2.38,2.38,2.36]
ne_72 = [2.4,2.4,2.4,2.42,2.5,2.52,2.42,2.5,2.52,2.52,2.52,2.54,2.54,2.55,2.56,2.58,2.6,2.6,2.6,2.6,2.62,2.64,2.62,2.66,2.65,2.65,2.65,2.66,2.68,2.7,2.72,2.76,2.76,2.72,2.72,2.72,2.72,2.72,2.72,2.7,2.72,2.74,2.72,2.72,
         2.68,2.75,2.72,2.7,2.7,2.68,2.72,2.68,2.7,2.72,2.68,2.74,2.74,2.72,2.7,2.68,2.67,2.67,2.67,2.67,2.68,2.68,2.82,3.05,3.05,2.95,2.83,2.82,2.72,2.66,2.65,2.65,2.62,2.6,2.6,2.56,2.55,2.55,2.55,2.55,2.52,2.5,2.55,2.52,2.46,2.47,2.46,2.46,2.46,2.44,2.44,2.4]
ne_74 = [2.58,2.6,2.6,2.62,2.62,2.65,2.63,2.68,2.68,2.68,2.68,2.7,2.74,2.75,2.72,2.76,2.76,2.76,2.75,2.78,2.78,2.8,2.8,2.79,2.83,2.84,2.84,2.85,2.84,2.85,2.87,2.88,2.88,2.86,2.84,2.87,2.87,2.86,2.88,2.87,2.88,2.85,2.86,2.86,
         2.88,2.88,2.88,2.88,2.88,2.87,2.87,2.88,2.88,2.88,2.87,2.86,2.86,2.85,2.85,2.85,2.84,2.84,2.84,2.84,2.84,2.88,2.91,3.05,3.05,2.96,2.9,2.88,2.84,2.84,2.82,2.8,2.74,2.72,2.78,2.78,2.72,2.74,2.76,2.72,2.72,2.72,2.72,2.72,2.7,2.68,2.68,2.65,2.65,2.63,2.62,2.6]
ne_76 = [2.8,2.8,2.73,2.76,2.8,2.82,2.82,2.86,2.86,2.88,2.86,2.9,2.94,2.94,2.94,2.96,2.94,2.95,2.96,2.94,2.96,2.97,2.98,2.95,2.99] + [3.05]*19 + [3.05]*28 + [
         2.96,2.92,2.92,2.92,2.9,2.87,2.88,2.89,2.85,2.85,2.9,2.83,2.85,2.82,2.83,2.83,2.79,2.78,2.76,2.76,2.76,2.74,2.73,2.68]
ne_78 = [2.93,2.95,2.97,2.9,2.94,3.05,2.96,3.05,3.05,3.05,2.99] + [3.05]*33 + [3.05]*41 + [
         2.995,2.995,2.98,2.96,2.93,2.92,2.92,2.92,2.9,2.84,2.82]
ne_80 = [3.05,2.98,3.05,2.99] + [3.05]*40 + [3.05]*40 + [
         2.97,2.995,2.995,2.99,2.98,2.99,2.99,2.95,2.95,2.98,2.98,2.92]
hours = np.arange(96) / 12 + 14

FS = 31.5
plt.rcParams['font.family'] = 'DejaVu Sans'
plt.rcParams['font.size'] = FS
plt.rcParams['axes.linewidth'] = 2.2
plt.rcParams['xtick.major.size'] = 11
plt.rcParams['ytick.major.size'] = 11
plt.rcParams['xtick.major.width'] = 1.6
plt.rcParams['ytick.major.width'] = 1.6
plt.rcParams['xtick.major.pad'] = 11
plt.rcParams['ytick.major.pad'] = 8

W, H = 2330, 2495
fig = plt.figure(figsize=(W / 100, H / 100), dpi=100)


def add_axes(x0, y0, x1, y1):
    # pixel box of the reference, y measured from the top
    return fig.add_axes([x0 / W, 1 - y1 / H, (x1 - x0) / W, (y1 - y0) / H])


# black to jet to white colour scale
jet_steps = np.linspace(0, 1, 33)
stops = [(0.0, (0, 0, 0, 1))]
for j in jet_steps:
    stops.append((0.1 + 0.8 * j, plt.cm.jet(j)))
stops.append((1.0, (1, 1, 1, 1)))
cmap = LinearSegmentedColormap.from_list('ne_cmap', stops, N=512)


def draw_map(ax, lon, lat, title):
    ax.set_facecolor('#cccccc')
    ax.add_patch(Polygon(np.column_stack([coast_lon, coast_lat]), closed=True, fc='white', ec='#404040', lw=2.5, zorder=1))
    for ilon, ilat in [(cuba_lon, cuba_lat), (hispaniola_lon, hispaniola_lat), (jamaica_lon, jamaica_lat), (puerto_rico_lon, puerto_rico_lat), (anticosti_lon, anticosti_lat)]:
        ax.add_patch(Polygon(np.column_stack([ilon, ilat]), closed=True, fc='white', ec='#404040', lw=2.0, zorder=1))
    lakes = [(superior_lon, superior_lat), (michigan_lon, michigan_lat), (huron_lon, huron_lat), (erie_lon, erie_lat),
             (ontario_lon, ontario_lat), (woods_lon, woods_lat), (salt_lake_lon, salt_lake_lat), (finger_lon, finger_lat)]
    for ilon, ilat in lakes:
        ax.add_patch(Polygon(np.column_stack([ilon, ilat]), closed=True, fc='#cccccc', ec='#cccccc', lw=1.5, zorder=1.1))
    rivers = [(missouri_lon, missouri_lat), (yellowstone_lon, yellowstone_lat), (mississippi_lon, mississippi_lat), (ohio_lon, ohio_lat),
              (arkansas_lon, arkansas_lat), (red_lon, red_lat), (rio_grande_lon, rio_grande_lat), (colorado_lon, colorado_lat),
              (columbia_lon, columbia_lat), (snake_lon, snake_lat), (lerma_lon, lerma_lat), (balsas_lon, balsas_lat),
              (usumacinta_lon, usumacinta_lat), (magdalena_lon, magdalena_lat), (orinoco_lon, orinoco_lat),
              (tennessee_lon, tennessee_lat), (ottawa_lon, ottawa_lat), (hudson_lon, hudson_lat)]
    for rlon, rlat in rivers:
        ax.plot(rlon, rlat, color='#cfcfcf', lw=2.2, zorder=1.2)
    ax.scatter(dot_lon, dot_lat, s=26, color='#404040', zorder=1.3)
    ax.add_patch(Rectangle((-105, 20), 25, 20, fc='darkgoldenrod', alpha=0.2, ec='none', zorder=2))
    ax.add_patch(Rectangle((-105, 20), 25, 20, fc='none', ec='darkgoldenrod', lw=2.6, zorder=2.1))
    for lo in [-120, -110, -100, -90, -80, -70]:
        ax.axvline(lo, color='#202020', ls=':', lw=2.0, zorder=2.5)
    for la in [10, 20, 30, 40]:
        ax.axhline(la, color='#202020', ls=':', lw=2.0, zorder=2.5)
    ax.scatter(lon, lat, s=390, color='green', edgecolors='black', linewidths=1.1, zorder=3)
    ax.scatter(receiver_lon, receiver_lat, s=340, marker='x', color='red', linewidths=3.8, zorder=4)
    ax.scatter(transmitter_lon, transmitter_lat, s=330, marker='d', color='blue', zorder=4)
    ax.set_xlim(-125, -60)
    ax.set_ylim(5, 50)
    ax.set_xticks([-120, -110, -100, -90, -80, -70])
    ax.set_xticklabels(['120°W', '110°W', '100°W', '90°W', '80°W', '70°W'])
    ax.tick_params(axis='x', length=0, pad=19)
    ax.tick_params(axis='y', length=0, pad=16)
    ax.set_title(title, fontsize=FS, pad=17)


def draw_slice(ax, x, rows, title, xlabel, xticks):
    ax.pcolormesh(x, slice_alt, np.array(rows), shading='nearest', cmap=cmap, vmin=0, vmax=3)
    ax.set_xlim(x[0], x[-1])
    ax.set_ylim(50, 80)
    ax.set_yticks([50, 60, 70, 80])
    ax.set_xticks(xticks)
    ax.set_xlabel(xlabel, labelpad=10)
    ax.set_title(title, fontsize=FS, pad=18)


ax1 = add_axes(207, 139, 1224, 843)
draw_map(ax1, quiet_lon, quiet_lat, 'Quiet Time Map')
ax1.set_yticks([10, 20, 30, 40])
ax1.set_yticklabels(['10°N', '20°N', '30°N', '40°N'])

ax2 = add_axes(1316, 139, 2333, 843)
draw_map(ax2, flare_lon, flare_lat, 'Flare Map')
ax2.set_yticks([])

ax3 = add_axes(208, 993, 670, 1434)
draw_slice(ax3, lat_centers, quiet_ns, 'N/S Slice at 92°W', 'Latitude', [20, 30, 40])
ax3.set_ylabel('Altitude [km]', labelpad=12)

ax4 = add_axes(762, 993, 1224, 1434)
draw_slice(ax4, lon_centers, quiet_ew, 'E/W Slice at 30°N', 'Longitude', [-100, -90, -80])
ax4.set_yticklabels([])

ax5 = add_axes(1316, 993, 1778, 1434)
draw_slice(ax5, lat_centers, flare_ns, 'N/S Slice at 92°W', 'Latitude', [20, 30, 40])
ax5.set_yticklabels([])

ax6 = add_axes(1871, 993, 2333, 1434)
draw_slice(ax6, lon_centers, flare_ew, 'E/W Slice at 30°N', 'Longitude', [-100, -90, -80])
ax6.set_yticklabels([])

ax7 = add_axes(208, 1665, 2333, 2105)
time_rows = [ne_50, ne_52, ne_54, ne_56, ne_58, ne_60, ne_62, ne_64, ne_66, ne_68, ne_70, ne_72, ne_74, ne_76, ne_78, ne_80]
mesh = ax7.pcolormesh(hours, slice_alt, np.array(time_rows), shading='nearest', cmap=cmap, vmin=0, vmax=3)
ax7.set_ylim(50, 80)
ax7.set_yticks([50, 60, 70, 80])
ax7.set_xticks([14, 15, 16, 17, 18, 19, 20, 21])
ax7.set_xlabel('Time (Hours UTC)', labelpad=10)
ax7.set_ylabel('Altitude [km]', labelpad=12)
ax7.set_title('Electron Density at 30°N, 92°W', fontsize=FS, pad=19)

cax = add_axes(207, 2263, 2337, 2336)
cbar = fig.colorbar(mesh, cax=cax, orientation='horizontal', ticks=[0, 0.5, 1.0, 1.5, 2.0, 2.5, 3.0])
cbar.set_label(r'$\log_{10}\,(N_e)$ [cm$^{-3}$]', labelpad=8)

# legend sits over both maps, its top edge is cut off in the source
handles = [
    Line2D([], [], ls='none', marker='o', ms=25, mfc='green', mec='black', mew=1.3),
    Line2D([], [], ls='none', marker='x', ms=23, color='red', mew=2.6),
    Line2D([], [], ls='none', marker='d', ms=25, color='blue'),
    Patch(fc=(0.722, 0.525, 0.043, 0.2), ec='darkgoldenrod', lw=2.6),
]
fig.legend(handles, ['Cluster', 'Receiver', 'Transmitter', 'Image Region'], loc='upper left',
           bbox_to_anchor=(1033 / W, 1 - 16 / H), fontsize=FS, labelspacing=0.5, frameon=True,
           edgecolor='#cccccc', framealpha=1.0, borderaxespad=0, handlelength=2.1, handletextpad=0.8, borderpad=0.37)
fig.add_artist(Rectangle((0, 1 - 24 / H), 1, 24 / H, fc='white', ec='none', zorder=6, transform=fig.transFigure))

# pieces of the slide text around the figure
fig.text(404 / W, 1 - 2510 / H, 'mitted paper', family='Lato', fontsize=56, ha='right', va='baseline')
fig.text(15.5 / W, 1 - 1998 / H, 'l', family='Lato', fontsize=56, ha='center', va='baseline')

fig.savefig('out.png', dpi=100)
